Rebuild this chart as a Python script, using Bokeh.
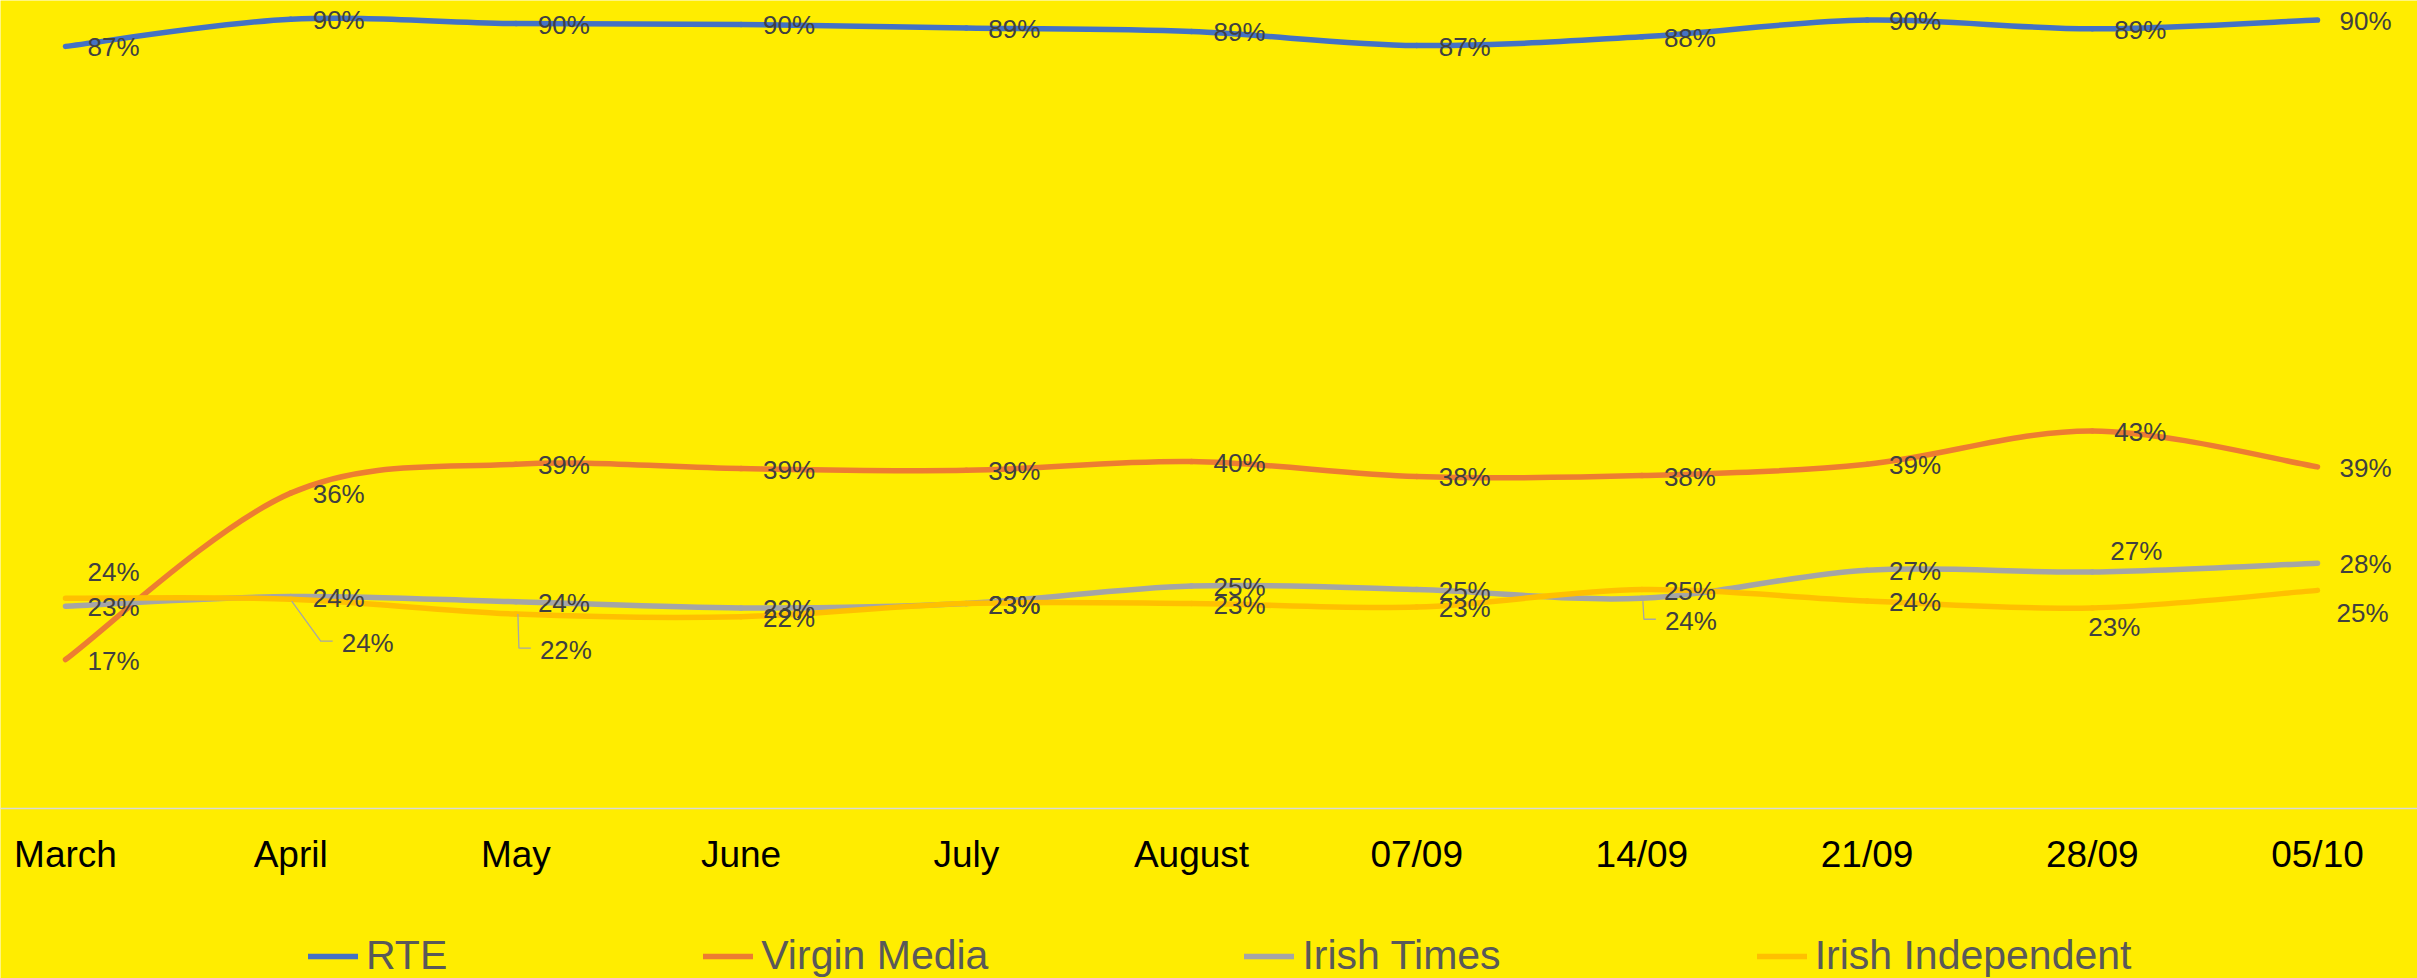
from bokeh.plotting import figure
from bokeh.models import ColumnDataSource, LinearAxis, FixedTicker, Range1d, Legend, LegendItem
from bokeh.core.properties import value
from bokeh.embed import file_html
from bokeh.resources import INLINE

# ---------------- data ----------------
categories = ["March", "April", "May", "June", "July", "August",
              "07/09", "14/09", "21/09", "28/09", "05/10"]
rte = [87.0, 90.1, 89.6, 89.5, 89.1, 88.7, 87.1, 88.1, 90.0, 89.0, 90.0]
virgin_media = [17.0, 36.0, 39.3, 38.8, 38.6, 39.6, 37.9, 38.0, 39.3, 43.1, 39.0]
irish_times = [23.1, 24.2, 23.6, 22.9, 23.4, 25.4, 25.0, 24.0, 27.2, 27.0, 28.0]
irish_independent = [24.0, 23.9, 22.2, 21.9, 23.4, 23.4, 23.0, 25.0, 23.7, 22.9, 24.9]

series_names = ["RTE", "Virgin Media", "Irish Times", "Irish Independent"]
series_values = [rte, virgin_media, irish_times, irish_independent]

# ---------------- styles / layout ----------------
colors = ["#4472C4", "#ED7D31", "#A5A5A5", "#FFC000"]
BG = "#FFED00"
FONT = "Liberation Sans"
W, H = 2417, 978
X_PX, X0_PX = 225.2, 65.0      # px per category, first category px
Y_PX, Y0_PX = 8.76, 808.0      # px per percent, px of 0% from top

x_start = -X0_PX / X_PX
x_end = x_start + W / X_PX
y_end = Y0_PX / Y_PX
y_start = -(H - Y0_PX) / Y_PX

# label placement tweaks (screen px: dx right, dy down)
DEFAULT_OFF = (22, 1)
label_offsets = {
    (3, 0): (22, -26),
    (3, 1): (51, 44),
    (3, 2): (24, 36),
    (2, 7): (23, 23),
    (2, 9): (18, -21),
    (3, 9): (-4, 19),
    (3, 10): (19, 23),
}
leader_offsets = {
    (3, 1): [(1, 2), (30, 42), (42, 42)],
    (3, 2): [(2, 0), (3, 34), (15, 34)],
    (2, 7): [(1, 3), (2, 21), (14, 21)],
}

p = figure(width=W, height=H, x_range=Range1d(x_start, x_end), y_range=Range1d(y_start, y_end),
           output_backend="svg", toolbar_location=None, x_axis_location=None, y_axis_location=None,
           min_border=0, background_fill_color=BG, border_fill_color=BG, outline_line_color=None)
p.grid.visible = False

xaxis = LinearAxis(fixed_location=0,
                   ticker=FixedTicker(ticks=list(range(len(categories)))),
                   major_label_overrides={i: c for i, c in enumerate(categories)},
                   axis_line_color="#D9D9D9", axis_line_width=1.3,
                   major_tick_line_color=None, minor_tick_line_color=None,
                   major_label_text_font_size="37px", major_label_text_color="#000000",
                   major_label_text_font=FONT, major_label_standoff=19)
p.add_layout(xaxis, "below")


def bezier_source(vals):
    n = len(vals)
    xs = list(range(n))
    d = dict(x0=[], y0=[], x1=[], y1=[], cx0=[], cy0=[], cx1=[], cy1=[])
    for i in range(n - 1):
        xp, yp = (xs[i - 1], vals[i - 1]) if i > 0 else (xs[i], vals[i])
        xn, yn = (xs[i + 2], vals[i + 2]) if i + 2 < n else (xs[i + 1], vals[i + 1])
        d["x0"].append(xs[i]); d["y0"].append(vals[i])
        d["x1"].append(xs[i + 1]); d["y1"].append(vals[i + 1])
        d["cx0"].append(xs[i] + (xs[i + 1] - xp) / 6.0)
        d["cy0"].append(vals[i] + (vals[i + 1] - yp) / 6.0)
        d["cx1"].append(xs[i + 1] - (xn - xs[i]) / 6.0)
        d["cy1"].append(vals[i + 1] - (yn - vals[i]) / 6.0)
    return ColumnDataSource(d)


renderers = []
for s, (name, vals) in enumerate(zip(series_names, series_values)):
    r = p.bezier(x0="x0", y0="y0", x1="x1", y1="y1", cx0="cx0", cy0="cy0", cx1="cx1", cy1="cy1",
                 source=bezier_source(vals), line_color=colors[s], line_width=5.5, line_cap="round")
    renderers.append(r)

# leader lines
lx, ly = [], []
for (s, i), offs in leader_offsets.items():
    v = series_values[s][i]
    lx.append([i + dx / X_PX for dx, dy in offs])
    ly.append([v - dy / Y_PX for dx, dy in offs])
p.multi_line(xs=lx, ys=ly, line_color="#A6A6A6", line_width=1.3)

# data labels
lab = dict(x=[], y=[], text=[], dx=[], dy=[])
for s, vals in enumerate(series_values):
    for i, v in enumerate(vals):
        dx, dy = label_offsets.get((s, i), DEFAULT_OFF)
        lab["x"].append(i); lab["y"].append(v)
        lab["text"].append(f"{round(v)}%")
        lab["dx"].append(dx); lab["dy"].append(dy)
p.text(x="x", y="y", text="text", x_offset="dx", y_offset="dy", source=ColumnDataSource(lab),
       text_font=value(FONT), text_font_size="26px", text_color="#404040",
       text_align="left", text_baseline="middle")

legend = Legend(items=[LegendItem(label=n, renderers=[r]) for n, r in zip(series_names, renderers)],
                orientation="horizontal", location=(308, -1),
                label_text_font=FONT, label_text_font_size="41px", label_text_color="#595959",
                glyph_width=50, glyph_height=30, label_standoff=8, spacing=256,
                padding=0, margin=0, border_line_color=None, background_fill_alpha=0)
p.add_layout(legend)

open("out.html", "w").write(file_html(p, INLINE))
